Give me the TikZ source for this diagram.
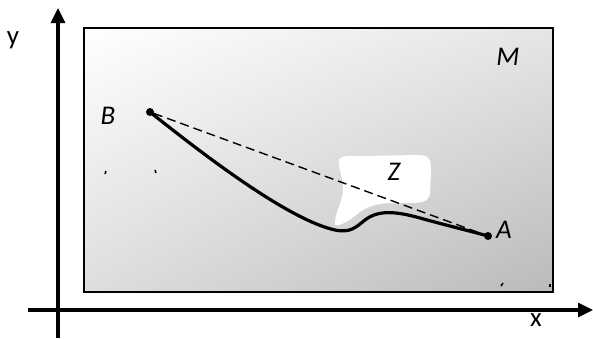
\documentclass[tikz,border=0pt]{standalone}
\usepackage{fontspec}
\setmainfont{Carlito}
\usetikzlibrary{arrows.meta,shadings}
\begin{document}
\begin{tikzpicture}[x=1pt,y=-1pt,
  axis/.style={line width=3.2pt,-{Triangle[length=15pt,width=14pt]}},
  lbl/.style={font=\itshape\fontsize{27}{27}\selectfont,inner sep=0pt},
  axlbl/.style={font=\fontsize{27}{27}\selectfont,inner sep=0pt},
  pt/.style={circle,fill=black,inner sep=0pt,minimum size=8pt},
  tick/.style={line width=1.5pt}]
\useasboundingbox (0,0) rectangle (593,338);
% region M
\shade[upper left=white,upper right=black!10,lower left=black!13,lower right=black!27] (84,28) rectangle (553,292);
\draw[line width=1.8pt] (84,28) rectangle (553,292);
% axes
\coordinate (yb) at (58,338);
\coordinate (yt) at (58,8);
\coordinate (xl) at (28,310);
\coordinate (xr) at (593,310);
\draw[axis] (yb) -- (yt);
\draw[axis] (xl) -- (xr);
\node[axlbl] (ylab) at (13,40) {y};
\node[axlbl] (xlab) at (536,320) {x};
% obstacle Z
\fill[white] (339,165) .. controls (337,155) and (345,156) .. (360,156)
  -- (418,155) .. controls (430,155) and (431,160) .. (431,172)
  -- (430,193) .. controls (429,203) and (420,203) .. (405,203)
  .. controls (385,203) and (372,203) .. (360,212)
  .. controls (348,222) and (340,226) .. (335,225)
  .. controls (334,215) and (343,200) .. (343,190)
  .. controls (343,180) and (340,172) .. (339,165) -- cycle;
\node[lbl] (M) at (508,57) {M};
\node[lbl] (Z) at (394,172) {Z};
% points
\node[pt] (B) at (150,112) {};
\node[pt] (A) at (488,236) {};
\node[lbl] (Blab) at (108,116) {B};
\node[lbl] (Alab) at (504,230) {A};
\draw[dash pattern=on 9pt off 5pt,line width=1.4pt] (B) -- (A);
\draw[line width=3.2pt] (B.center) .. controls (210,160) and (290,220) .. (335,230)
  .. controls (350,233) and (355,228) .. (365,220)
  .. controls (378,210) and (395,211) .. (420,218)
  .. controls (445,225) and (470,231) .. (A.center);
% small marks
\draw[tick] (105,174) -- (106,171);
\draw[tick] (155,170) -- (156,173);
\draw[tick] (501,286) -- (503,283);
\draw[tick] (550,284) -- (550,287);
\end{tikzpicture}
\end{document}
